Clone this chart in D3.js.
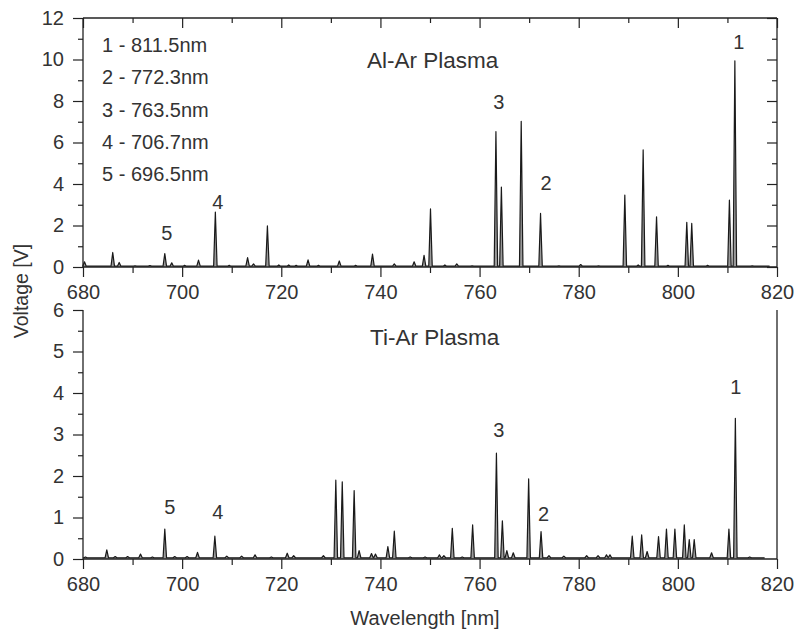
<!DOCTYPE html>
<html>
<head>
<meta charset="utf-8">
<script src="https://cdn.jsdelivr.net/npm/d3@7"></script>
<style>
  html, body { margin: 0; padding: 0; background: #fff; }
  svg text { font-family: "Liberation Sans", Arial, sans-serif; fill: #333; }
</style>
</head>
<body>
<svg id="chart" width="797" height="632"></svg>
<script>
// ---- Data ----
const alWave = [680.3, 686.0, 687.3, 690.5, 693.5, 696.5, 697.9, 700.5, 703.3, 706.7, 709.5, 713.2, 714.4, 717.2, 719.5, 721.5, 723.0, 725.4, 727.5, 731.7, 735.0, 738.4, 742.8, 746.8, 748.8, 750.1, 753.0, 755.4, 758.5, 763.3, 764.4, 768.4, 772.3, 776.0, 780.4, 784.0, 789.3, 792.0, 793.0, 795.7, 798.0, 801.8, 802.8, 806.0, 810.4, 811.5, 815.0];
const alVolt = [0.25, 0.7, 0.22, 0.06, 0.07, 0.65, 0.2, 0.08, 0.33, 2.65, 0.08, 0.45, 0.15, 1.98, 0.1, 0.1, 0.08, 0.34, 0.08, 0.29, 0.08, 0.62, 0.15, 0.25, 0.56, 2.8, 0.1, 0.15, 0.06, 6.52, 3.85, 7.02, 2.58, 0.06, 0.12, 0.06, 3.47, 0.1, 5.64, 2.42, 0.08, 2.15, 2.1, 0.08, 3.23, 9.94, 0.06];

const tiWave = [680.5, 684.8, 686.5, 689.0, 691.6, 694.0, 696.5, 698.5, 701.0, 703.1, 706.6, 709.0, 712.0, 714.7, 718.0, 721.2, 722.5, 728.5, 731.0, 732.3, 734.7, 735.7, 738.2, 739.0, 741.5, 742.8, 746.0, 749.0, 751.9, 752.8, 754.5, 756.5, 758.6, 763.4, 764.6, 765.5, 766.8, 769.9, 772.4, 774.0, 777.0, 781.6, 783.9, 785.6, 786.3, 790.8, 792.7, 793.8, 796.1, 797.7, 799.4, 801.3, 802.3, 803.3, 806.8, 810.3, 811.6, 814.5];
const tiVolt = [0.05, 0.22, 0.06, 0.06, 0.12, 0.05, 0.72, 0.06, 0.06, 0.16, 0.55, 0.07, 0.07, 0.1, 0.05, 0.14, 0.08, 0.08, 1.9, 1.86, 1.65, 0.2, 0.13, 0.12, 0.3, 0.67, 0.05, 0.05, 0.1, 0.08, 0.74, 0.05, 0.82, 2.55, 0.92, 0.2, 0.15, 1.93, 0.66, 0.08, 0.07, 0.08, 0.08, 0.1, 0.1, 0.55, 0.58, 0.18, 0.54, 0.72, 0.72, 0.82, 0.47, 0.47, 0.15, 0.72, 3.39, 0.05];

const legendLines = ["1 - 811.5nm", "2 - 772.3nm", "3 - 763.5nm", "4 - 706.7nm", "5 - 696.5nm"];

const alLabelText = ["1", "3", "2", "4", "5"];
const alLabelWave = [812.3, 763.9, 773.4, 707.2, 696.9];
const alLabelVolt = [10.84, 7.95, 4.05, 3.13, 1.64];

const tiLabelText = ["5", "4", "3", "2", "1"];
const tiLabelWave = [697.5, 707.2, 763.9, 772.9, 811.7];
const tiLabelVolt = [1.25, 1.13, 3.11, 1.08, 4.14];

const xMajor = [680, 700, 720, 740, 760, 780, 800, 820];
const xMinor = [690, 710, 730, 750, 770, 790, 810];
const alYMajor = [0, 2, 4, 6, 8, 10, 12];
const alYMinor = [1, 3, 5, 7, 9, 11];
const tiYMajor = [0, 1, 2, 3, 4, 5, 6];
const tiYMinor = [0.5, 1.5, 2.5, 3.5, 4.5, 5.5];

// ---- Layout ----
const svg = d3.select("#chart");
const FS = 20;
const x = d3.scaleLinear().domain([680, 820]).range([83, 777]);
const yAl = d3.scaleLinear().domain([0, 12]).range([267, 18]);
const yTi = d3.scaleLinear().domain([0, 6]).range([559, 310]);

function spectrumPoints(waves, volts, base, start, end) {
  const hw = 0.35;
  const pts = [[start, base]];
  waves.forEach((w, i) => {
    pts.push([w - hw, base]);
    pts.push([w, volts[i]]);
    pts.push([w + hw, base]);
  });
  pts.push([end, base]);
  return pts;
}

function styleAxis(g, labels) {
  g.select(".domain").remove();
  g.selectAll(".tick line").attr("stroke", "#222").attr("stroke-width", 1.2);
  if (labels) g.selectAll(".tick text").style("font-size", FS + "px").attr("fill", "#333");
  else g.selectAll(".tick text").remove();
}

function drawPanel(y, yMajor, yMinor, waves, volts, base, end, boxTop) {
  const g = svg.append("g");
  const y0 = y.range()[0], y1 = y.range()[1];

  // spectrum
  const pts = spectrumPoints(waves, volts, base, 680, end);
  const area = d3.area().x(d => x(d[0])).y0(y(0)).y1(d => y(d[1]));
  const line = d3.line().x(d => x(d[0])).y(d => y(d[1]));
  g.append("path").datum(pts).attr("d", area).attr("fill", "#9a9a9a");
  g.append("path").datum(pts).attr("d", line).attr("fill", "none")
    .attr("stroke", "#1a1a1a").attr("stroke-width", 1.2).attr("stroke-linejoin", "round");

  // left axis
  const la = g.append("g").attr("transform", `translate(${x.range()[0]},0)`);
  la.append("g").call(d3.axisLeft(y).tickValues(yMinor).tickSize(5)).call(s => styleAxis(s, false));
  la.append("g").call(d3.axisLeft(y).tickValues(yMajor).tickSize(10).tickPadding(9).tickFormat(d3.format("d"))).call(s => styleAxis(s, true));

  // bottom axis
  const ba = g.append("g").attr("transform", `translate(0,${y0})`);
  ba.append("g").call(d3.axisBottom(x).tickValues(xMinor).tickSize(6)).call(s => styleAxis(s, false));
  ba.append("g").call(d3.axisBottom(x).tickValues(xMajor).tickSize(10).tickPadding(8).tickFormat(d3.format("d"))).call(s => styleAxis(s, true));

  if (boxTop) {
    const ta = g.append("g").attr("transform", `translate(0,${y1})`);
    ta.append("g").call(d3.axisBottom(x).tickValues(xMinor).tickSize(5)).call(s => styleAxis(s, false));
    ta.append("g").call(d3.axisBottom(x).tickValues(xMajor).tickSize(10)).call(s => styleAxis(s, false));
    const ra = g.append("g").attr("transform", `translate(${x.range()[1]},0)`);
    ra.append("g").call(d3.axisLeft(y).tickValues(yMinor).tickSize(5)).call(s => styleAxis(s, false));
    ra.append("g").call(d3.axisLeft(y).tickValues(yMajor).tickSize(10)).call(s => styleAxis(s, false));
    g.append("line").attr("x1", x.range()[0]).attr("x2", x.range()[1]).attr("y1", y1).attr("y2", y1)
      .attr("stroke", "#222").attr("stroke-width", 1.3);
  }
  // frame lines
  g.append("line").attr("x1", x.range()[0]).attr("x2", x.range()[0]).attr("y1", y0).attr("y2", y1)
    .attr("stroke", "#222").attr("stroke-width", 1.3);
  g.append("line").attr("x1", x.range()[0]).attr("x2", x.range()[1]).attr("y1", y0).attr("y2", y0)
    .attr("stroke", "#222").attr("stroke-width", 1.3);
  g.append("line").attr("x1", x.range()[1]).attr("x2", x.range()[1]).attr("y1", y0).attr("y2", y1)
    .attr("stroke", "#222").attr("stroke-width", 1.3);
  return g;
}

const gAl = drawPanel(yAl, alYMajor, alYMinor, alWave, alVolt, 0.04, 818.5, true);
const gTi = drawPanel(yTi, tiYMajor, tiYMinor, tiWave, tiVolt, 0.03, 817.5, false);

// peak labels
alLabelText.forEach((t, i) => {
  svg.append("text").attr("x", x(alLabelWave[i])).attr("y", yAl(alLabelVolt[i]))
    .attr("text-anchor", "middle").attr("dominant-baseline", "central")
    .style("font-size", FS + "px").text(t);
});
tiLabelText.forEach((t, i) => {
  svg.append("text").attr("x", x(tiLabelWave[i])).attr("y", yTi(tiLabelVolt[i]))
    .attr("text-anchor", "middle").attr("dominant-baseline", "central")
    .style("font-size", FS + "px").text(t);
});

// legend text
legendLines.forEach((t, i) => {
  svg.append("text").attr("x", 102).attr("y", 45 + i * 32.3)
    .attr("dominant-baseline", "central").style("font-size", FS + "px").text(t);
});

// panel titles
svg.append("text").attr("x", 367).attr("y", 60).attr("dominant-baseline", "central")
  .style("font-size", "22.5px").text("Al-Ar Plasma");
svg.append("text").attr("x", 370).attr("y", 337).attr("dominant-baseline", "central")
  .style("font-size", "22.5px").text("Ti-Ar Plasma");

// axis titles
svg.append("text").attr("transform", "translate(21,291) rotate(-90)")
  .attr("text-anchor", "middle").attr("dominant-baseline", "central")
  .style("font-size", "19.5px").text("Voltage [V]");
svg.append("text").attr("x", 425).attr("y", 618)
  .attr("text-anchor", "middle").attr("dominant-baseline", "central")
  .style("font-size", "20px").text("Wavelength [nm]");
</script>
</body>
</html>
